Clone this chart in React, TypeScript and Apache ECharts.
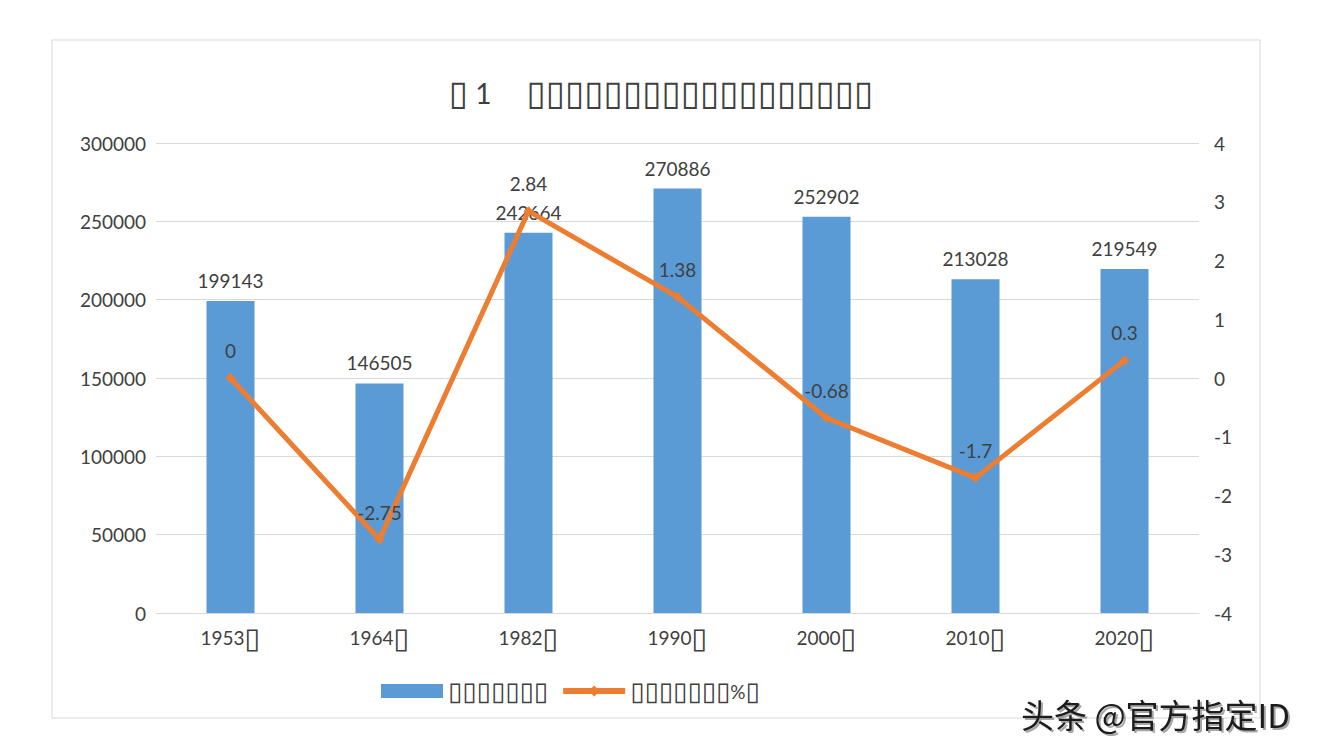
import React, { useEffect, useRef } from "react";
import * as echarts from "echarts";

const categories = ["1953▯", "1964▯", "1982▯", "1990▯", "2000▯", "2010▯", "2020▯"];
const populationValues = [199143, 146505, 242664, 270886, 252902, 213028, 219549];
const growthRates = [0, -2.75, 2.84, 1.38, -0.68, -1.7, 0.3];
const leftTicks = { min: 0, max: 300000, interval: 50000 };
const rightTicks = { min: -4, max: 4, interval: 1 };
const titleBoxes = "▯▯▯▯▯▯▯▯▯▯▯▯▯▯▯▯▯▯";
const barName = "▯▯▯▯▯▯▯";
const lineName = "▯▯▯▯▯▯▯%▯";
const watermark = "头条 @官方指定ID";

const FONT = "Lato, 'DejaVu Sans', sans-serif";
const BOXFONT = "'DejaVu Sans'";
const TEXT = "#404040";
const BLUE = "#5B9BD5";
const ORANGE = "#ED7D31";

const boxify = (s: string) => s.replace(/(▯+)/g, "{b|$1}");

export default function App() {
  const ref = useRef<HTMLDivElement>(null);
  useEffect(() => {
    if (!ref.current) return;
    const chart = echarts.init(ref.current, undefined, { renderer: "svg" });
    chart.setOption({
      animation: false,
      backgroundColor: "#ffffff",
      textStyle: { fontFamily: FONT },
      title: {
        text: "{b|▯}{n| 1}{n|\u3000 }{b|" + titleBoxes + "}",
        left: "center",
        top: 70,
        textStyle: {
          fontFamily: FONT,
          fontSize: 28,
          fontWeight: "normal",
          color: TEXT,
          rich: {
            b: { fontFamily: BOXFONT, fontSize: 35, color: TEXT },
            n: { fontFamily: FONT, fontSize: 28, color: TEXT },
          },
        },
      },
      legend: {
        left: 376,
        top: 673,
        itemWidth: 62,
        itemHeight: 14,
        itemGap: 12,
        formatter: (name: string) => boxify(name),
        textStyle: {
          fontFamily: FONT,
          fontSize: 19,
          color: TEXT,
          rich: { b: { fontFamily: BOXFONT, fontSize: 26, color: TEXT } },
        },
        data: [
          { name: barName, icon: "rect" },
          { name: lineName, lineStyle: { width: 6, color: ORANGE }, itemStyle: { color: ORANGE } },
        ],
      },
      grid: { left: 156, right: 123, top: 143, bottom: 141 },
      xAxis: {
        type: "category",
        data: categories,
        axisLine: { lineStyle: { color: "#d9d9d9", width: 1 } },
        axisTick: { show: false },
        axisLabel: {
          fontFamily: FONT,
          fontSize: 19,
          color: TEXT,
          margin: 10,
          formatter: (v: string) => boxify(v),
          rich: { b: { fontFamily: BOXFONT, fontSize: 29, color: TEXT } },
        },
      },
      yAxis: [
        {
          type: "value",
          min: leftTicks.min,
          max: leftTicks.max,
          interval: leftTicks.interval,
          axisLine: { show: false },
          axisTick: { show: false },
          splitLine: { lineStyle: { color: "#d9d9d9", width: 1 } },
          axisLabel: {
            fontFamily: FONT,
            fontSize: 19,
            color: TEXT,
            margin: 10,
            formatter: (v: number) => String(v),
          },
        },
        {
          type: "value",
          min: rightTicks.min,
          max: rightTicks.max,
          interval: rightTicks.interval,
          axisLine: { show: false },
          axisTick: { show: false },
          splitLine: { show: false },
          axisLabel: { fontFamily: FONT, fontSize: 19, color: TEXT, margin: 15 },
        },
      ],
      series: [
        {
          name: barName,
          type: "bar",
          data: populationValues,
          barWidth: 48,
          itemStyle: { color: BLUE },
          label: {
            show: true,
            position: "top",
            distance: 11,
            fontFamily: FONT,
            fontSize: 19,
            color: TEXT,
          },
          z: 2,
        },
        {
          name: lineName,
          type: "line",
          yAxisIndex: 1,
          data: growthRates,
          symbol: "diamond",
          symbolSize: 10,
          lineStyle: { color: ORANGE, width: 5 },
          itemStyle: { color: ORANGE },
          label: {
            show: true,
            position: "top",
            distance: 13,
            fontFamily: FONT,
            fontSize: 19,
            color: TEXT,
          },
          z: 3,
        },
      ],
      graphic: [
        {
          type: "rect",
          shape: { x: 52, y: 40, width: 1208, height: 678 },
          style: { fill: "none", stroke: "#d9d9d9", lineWidth: 1 },
          silent: true,
        },
        {
          type: "text",
          x: 1021,
          y: 697,
          style: {
            text: watermark,
            fontFamily: "'Noto Sans CJK SC', sans-serif",
            fontSize: 33,
            fill: "#1a1a1a",
            textShadowColor: "rgba(0,0,0,0.35)",
            textShadowOffsetX: 2,
            textShadowOffsetY: 2,
            textShadowBlur: 1,
          },
          z: 100,
        },
      ],
    });
    return () => chart.dispose();
  }, []);
  return (
    <div
      ref={ref}
      style={{ position: "absolute", left: 0, top: 0, width: 1322, height: 754 }}
    />
  );
}
